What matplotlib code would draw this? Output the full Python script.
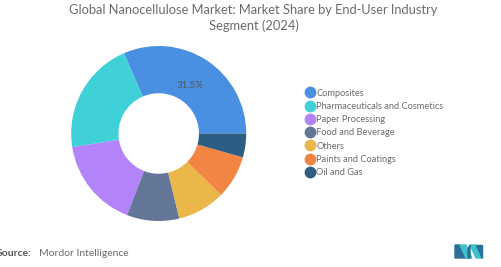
import numpy as np
import matplotlib.pyplot as plt
from matplotlib.lines import Line2D
from matplotlib.patches import Polygon

plt.rcParams['font.family'] = ['Lato', 'DejaVu Sans']

segments = ["Composites", "Pharmaceuticals and Cosmetics", "Paper Processing",
            "Food and Beverage", "Others", "Paints and Coatings", "Oil and Gas"]
shares = [31.5, 21.0, 16.6, 9.7, 8.8, 8.0, 4.4]
colors = ["#4a90e2", "#40d0d8", "#b383f9", "#657799", "#ecb74a", "#f38542", "#2c5d82"]

W, H = 502, 267
fig = plt.figure(figsize=(W / 100, H / 100), dpi=100)

# donut
cx, cy, r = 158.7, 133.5, 87.5
ax = fig.add_axes([(cx - r) / W, (H - cy - r) / H, 2 * r / W, 2 * r / H])
wedges, _ = ax.pie(shares, colors=colors, startangle=0, counterclock=True,
                   radius=1, wedgeprops=dict(width=0.54, linewidth=0))
ax.set_xlim(-1, 1)
ax.set_ylim(-1, 1)
ax.set_aspect('equal')
ax.axis('off')

# only the largest slice carries a label
mid = np.deg2rad(shares[0] / 100 * 360 / 2)
ax.text(0.66 * np.cos(mid), 0.66 * np.sin(mid), f"{shares[0]}%",
        ha='center', va='center', fontsize=7, color='#555555')

fig.text(0.505, 1 - 10 / H, "Global Nanocellulose Market: Market Share by End-User Industry",
         ha='center', va='center', fontsize=9.3, color='#6b6b6b')
fig.text(0.505, 1 - 26 / H, "Segment (2024)",
         ha='center', va='center', fontsize=9.3, color='#6b6b6b')

handles = [Line2D([], [], marker='o', linestyle='none', markersize=7.5,
                  markerfacecolor=c, markeredgecolor=c) for c in colors]
fig.legend(handles, segments, loc='upper left', bbox_to_anchor=(306 / W, 1 - 88.5 / H),
           frameon=False, fontsize=6.7, labelcolor='#6b6b6b', handlelength=0.8,
           handletextpad=0.3, labelspacing=0.46, borderpad=0, borderaxespad=0)

fig.text(-3 / W, 1 - 253 / H, "Source:", ha='left', va='center', fontsize=7.5,
         color='#555555', fontweight='bold')
fig.text(39 / W, 1 - 253 / H, "Mordor Intelligence", ha='left', va='center',
         fontsize=7.5, color='#6b6b6b')

# logo
def px(pts):
    return [(x / W, 1 - y / H) for x, y in pts]

fig.patches.append(Polygon(px([(455, 245), (460, 245), (466, 258), (455, 258)]),
                           closed=True, color='#2a6f97', transform=fig.transFigure))
fig.patches.append(Polygon(px([(460, 245), (466, 245), (472, 258), (466, 258)]),
                           closed=True, color='#3fc2c9', transform=fig.transFigure))
fig.patches.append(Polygon(px([(470, 245), (476, 245), (482, 258), (476, 258)]),
                           closed=True, color='#3fc2c9', transform=fig.transFigure))
fig.patches.append(Polygon(px([(476, 245), (482, 245), (482, 258)]),
                           closed=True, color='#2a6f97', transform=fig.transFigure))
fig.patches.append(Polygon(px([(468, 249), (470, 245), (470, 258), (468, 258)]),
                           closed=True, color='#2a6f97', transform=fig.transFigure))

fig.savefig("out.png", dpi=100)
